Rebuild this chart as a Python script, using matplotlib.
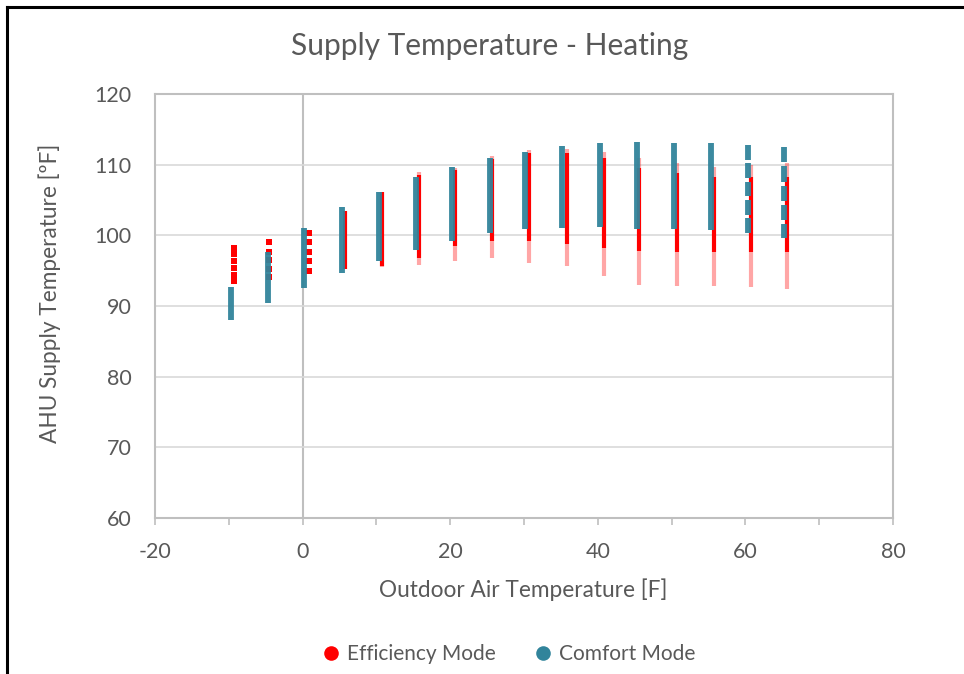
import matplotlib
matplotlib.use("Agg")
import matplotlib.pyplot as plt
from matplotlib.lines import Line2D

plt.rcParams['font.family'] = ['Lato', 'DejaVu Sans']
plt.rcParams['axes.unicode_minus'] = False

# Outdoor air temperature bins [F]
oat_bins = [-10, -5, 0, 5, 10, 15, 20, 25, 30, 35, 40, 45, 50, 55, 60, 65]

# Comfort mode: plotted x and supply temperature range [F] per bin
comfort_x = [-9.7, -4.7, 0.2, 5.3, 10.4, 15.4, 20.3, 25.4, 30.1, 35.2,
             40.3, 45.3, 50.3, 55.3]
comfort_low = [88.0, 90.4, 92.6, 94.7, 96.4, 97.9, 99.2, 100.4, 100.9,
               101.1, 101.2, 100.9, 100.9, 100.8]
comfort_high = [92.7, 97.6, 101.1, 104.0, 106.2, 108.2, 109.6, 110.9,
                111.8, 112.6, 113.0, 113.2, 113.1, 113.0]

# Comfort mode at 60 F and 65 F comes in separate bands
comfort_band_x = [60.3, 60.3, 60.3, 60.3, 60.3, 65.2, 65.2, 65.2, 65.2, 65.2]
comfort_band_low = [100.3, 102.9, 105.5, 108.1, 110.7,
                    99.6, 102.2, 104.8, 107.6, 110.4]
comfort_band_high = [102.4, 105.0, 107.6, 110.2, 112.8,
                     101.6, 104.3, 107.0, 109.8, 112.5]

# Efficiency mode at the coldest bins: individual readings
eff_point_x = [-9.3] * 6 + [-4.5] * 5 + [0.8] * 5
eff_point_y = [93.5, 94.4, 95.4, 96.3, 97.3, 98.2,
               94.1, 95.2, 96.5, 97.7, 99.0,
               94.9, 96.3, 97.7, 99.1, 100.4]

# Efficiency mode at 5 F and above: dense core and sparse tails
eff_x = [5.8, 10.7, 15.8, 20.6, 25.7, 30.7, 35.8, 40.8, 45.6, 50.7,
         55.7, 60.7, 65.6]
eff_top = [103.5, 106.2, 108.9, 109.5, 111.2, 112.1, 112.2, 111.8, 110.9,
           110.2, 109.7, 110.0, 110.2]
eff_core_top = [103.5, 106.2, 108.6, 109.2, 110.8, 111.6, 111.6, 111.0,
                109.5, 108.8, 108.3, 108.3, 108.3]
eff_core_bottom = [95.3, 95.6, 96.8, 98.5, 99.2, 99.2, 98.8, 98.2, 97.8,
                   97.6, 97.6, 97.6, 97.6]
eff_bottom = [95.3, 95.5, 95.8, 96.3, 96.8, 96.1, 95.6, 94.2, 93.0, 92.8,
              92.8, 92.7, 92.4]

RED = '#FF0000'
TEAL = '#31849B'
TEXT = '#595959'
GRID = '#D9D9D9'
FRAME = '#BFBFBF'

fig = plt.figure(figsize=(9.64, 6.74), dpi=100)
ax = fig.add_axes([155 / 964, 1 - 518 / 674, (893 - 155) / 964, (518 - 94) / 674])

# Efficiency mode
ax.vlines(eff_x, eff_bottom, eff_core_bottom, color=RED, lw=3.0, alpha=0.35, zorder=2)
ax.vlines(eff_x, eff_core_top, eff_top, color=RED, lw=3.0, alpha=0.35, zorder=2)
ax.vlines(eff_x, eff_core_bottom, eff_core_top, color=RED, lw=3.0, zorder=2)
ax.scatter(eff_point_x, eff_point_y, s=18, marker='s', color=RED, lw=0, zorder=2)

# Comfort mode
ax.vlines(comfort_x, comfort_low, comfort_high, color=TEAL, lw=4.2, alpha=0.95, zorder=3)
ax.vlines(comfort_band_x, comfort_band_low, comfort_band_high, color=TEAL, lw=4.2,
          alpha=0.95, zorder=3)

ax.set_xlim(-20, 80)
ax.set_ylim(60, 120)
ax.set_xticks(range(-20, 81, 20))
ax.set_xticks(range(-20, 81, 10), minor=True)
ax.set_yticks(range(60, 121, 10))

ax.grid(axis='y', color=GRID, lw=1.2, zorder=0)
ax.axvline(0, color=FRAME, lw=1.5, zorder=1)
for side in ('left', 'top', 'right', 'bottom'):
    ax.spines[side].set_color(FRAME)
    ax.spines[side].set_linewidth(1.5)

ax.tick_params(axis='y', length=0, pad=17, labelsize=15.5, labelcolor=TEXT)
ax.tick_params(axis='x', which='both', direction='out', length=5, width=1.2,
               color=FRAME, pad=12, labelsize=15.5, labelcolor=TEXT)

fig.text(490 / 964, 1 - 46 / 674, 'Supply Temperature - Heating', ha='center',
         va='center', fontsize=21.5, color=TEXT)
fig.text(523 / 964, 1 - 590 / 674, 'Outdoor Air Temperature [F]', ha='center',
         va='center', fontsize=16.3, color=TEXT)
fig.text(50 / 964, 1 - 293 / 674, 'AHU Supply Temperature [ºF]', ha='center',
         va='center', rotation=90, fontsize=16.3, color=TEXT)

handles = [Line2D([], [], ls='none', marker='o', ms=10.5, color=RED, mec='none'),
           Line2D([], [], ls='none', marker='o', ms=10.5, color=TEAL, mec='none')]
fig.legend(handles, ['Efficiency Mode', 'Comfort Mode'], loc='center',
           bbox_to_anchor=(508 / 964, 1 - 654 / 674), ncol=2, frameon=False,
           fontsize=15, labelcolor=TEXT, handletextpad=0.25, columnspacing=1.8,
           handlelength=1.0)

# Outer chart border (left and top edges)
fig.add_artist(Line2D([7 / 964, 7 / 964], [0, 1 - 7 / 674], color='black', lw=2.2,
                      transform=fig.transFigure))
fig.add_artist(Line2D([7 / 964, 1], [1 - 7 / 674, 1 - 7 / 674], color='black', lw=2.2,
                      transform=fig.transFigure))

fig.savefig('out.png', dpi=100, facecolor='white')
